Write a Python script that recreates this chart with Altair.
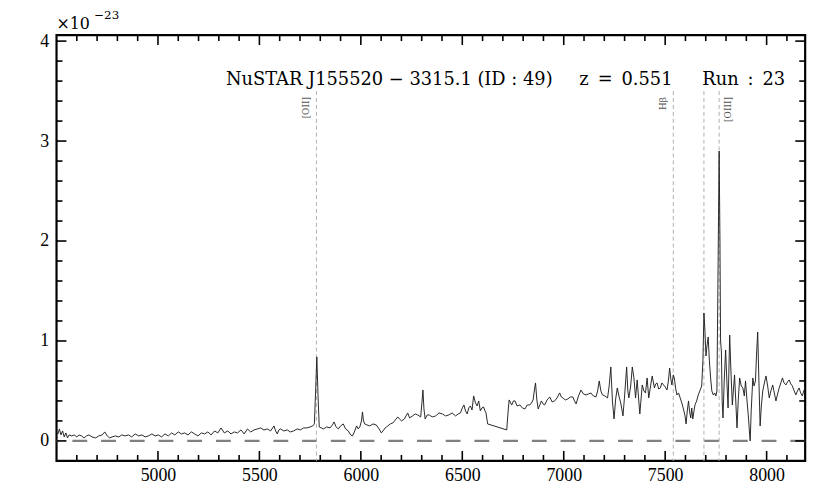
import altair as alt
import pandas as pd

# ---------------- data ----------------
# wavelength [Angstrom] and flux [x1e-23] by segment
A_wl = [4500, 4507, 4514, 4522, 4530, 4538, 4546, 4554, 4562, 4575, 4587, 4600, 4611, 4624, 4636, 4648, 4660, 4675,
        4693, 4708, 4725, 4738, 4750, 4762, 4774, 4790, 4807, 4822, 4838, 4855, 4870, 4888, 4905, 4921, 4937, 4953,
        4970, 4986, 5002, 5018, 5035, 5051, 5067, 5083, 5100, 5116, 5132, 5148, 5165, 5181, 5197, 5214, 5230, 5246,
        5262, 5279, 5295, 5311, 5327, 5344, 5360, 5376, 5392, 5409, 5425, 5441, 5457, 5474]
A_flux = [0.09, 0.07, 0.12, 0.06, 0.10, 0.04, 0.08, 0.03, 0.06, 0.05, 0.06, 0.04, 0.06, 0.05, 0.03, 0.05, 0.06, 0.04,
          0.03, 0.05, 0.06, 0.09, 0.05, 0.03, 0.04, 0.05, 0.04, 0.06, 0.05, 0.06, 0.04, 0.07, 0.05, 0.06, 0.04, 0.05,
          0.07, 0.05, 0.06, 0.04, 0.07, 0.05, 0.08, 0.06, 0.09, 0.07, 0.08, 0.06, 0.09, 0.07, 0.05, 0.08, 0.07, 0.09,
          0.06, 0.10, 0.08, 0.13, 0.08, 0.10, 0.07, 0.09, 0.08, 0.11, 0.07, 0.12, 0.09, 0.11]

B_wl = [5490, 5506, 5522, 5539, 5555, 5572, 5580, 5588, 5596, 5604, 5620, 5637, 5653, 5669, 5686, 5702, 5718, 5734,
        5750, 5763, 5771, 5778, 5783, 5789, 5795, 5805, 5816, 5832, 5848, 5860, 5868, 5878, 5889, 5900, 5913, 5925,
        5938, 5950, 5959, 5970, 5979, 5987, 5995, 6003, 6008, 6013, 6019, 6030, 6044, 6060, 6076, 6090, 6101, 6109,
        6120, 6133, 6145, 6158, 6170, 6182, 6190, 6200, 6215, 6225, 6231, 6240, 6255, 6268, 6280, 6295, 6301, 6306,
        6311, 6317, 6327, 6337, 6352, 6369, 6385, 6402, 6418, 6434, 6450, 6467]
B_flux = [0.12, 0.13, 0.11, 0.12, 0.10, 0.15, 0.10, 0.07, 0.11, 0.12, 0.10, 0.11, 0.09, 0.10, 0.12, 0.11, 0.13, 0.13,
          0.14, 0.15, 0.17, 0.55, 0.84, 0.45, 0.14, 0.13, 0.12, 0.14, 0.13, 0.16, 0.19, 0.14, 0.12, 0.15, 0.17, 0.12,
          0.10, 0.06, 0.05, 0.10, 0.15, 0.12, 0.14, 0.20, 0.29, 0.20, 0.17, 0.16, 0.15, 0.17, 0.16, 0.12, 0.08, 0.10,
          0.13, 0.15, 0.17, 0.18, 0.21, 0.24, 0.22, 0.20, 0.22, 0.26, 0.28, 0.23, 0.25, 0.27, 0.26, 0.24, 0.38, 0.51,
          0.32, 0.22, 0.26, 0.26, 0.24, 0.25, 0.28, 0.27, 0.25, 0.26, 0.28, 0.25]

C_wl = [6480, 6491, 6500, 6508, 6516, 6524, 6532, 6540, 6548, 6556, 6565, 6573, 6581, 6589, 6597, 6605, 6612, 6617,
        6625, 6719, 6726, 6731, 6738, 6744, 6752, 6760, 6770, 6784, 6796, 6809, 6820, 6833, 6841, 6849, 6856, 6861,
        6867, 6874, 6882, 6890, 6898, 6906, 6918, 6931, 6943, 6955, 6967, 6980, 6988, 6996, 7008, 7020, 7033, 7045,
        7053, 7061, 7073, 7085, 7097, 7110, 7122, 7134, 7146, 7159, 7167, 7175, 7183, 7191, 7203, 7216, 7224, 7232,
        7240, 7248, 7256, 7264, 7272, 7281, 7292, 7300, 7310, 7316, 7321, 7330, 7338]
C_flux = [0.27, 0.28, 0.33, 0.36, 0.30, 0.27, 0.33, 0.35, 0.31, 0.45, 0.38, 0.35, 0.40, 0.30, 0.33, 0.34, 0.30, 0.28,
          0.17, 0.11, 0.30, 0.41, 0.38, 0.36, 0.40, 0.40, 0.35, 0.36, 0.33, 0.32, 0.36, 0.36, 0.38, 0.41, 0.52, 0.58,
          0.42, 0.32, 0.36, 0.40, 0.37, 0.36, 0.41, 0.44, 0.39, 0.40, 0.43, 0.48, 0.44, 0.43, 0.41, 0.42, 0.44, 0.44,
          0.40, 0.37, 0.45, 0.51, 0.47, 0.46, 0.47, 0.48, 0.45, 0.44, 0.50, 0.60, 0.50, 0.46, 0.45, 0.43, 0.55, 0.74,
          0.40, 0.22, 0.42, 0.53, 0.45, 0.38, 0.25, 0.45, 0.74, 0.50, 0.43, 0.55, 0.74]

D_wl = [7346, 7354, 7362, 7375, 7387, 7395, 7403, 7411, 7419, 7428, 7436, 7447, 7453, 7460, 7468, 7476, 7484, 7492,
        7500, 7509, 7516, 7522, 7528, 7533, 7540, 7545, 7552, 7558, 7566, 7574, 7582, 7590, 7597, 7603, 7609, 7615,
        7620, 7626, 7631, 7636, 7642, 7647, 7655, 7663, 7671, 7680, 7686, 7691, 7696, 7701, 7706, 7712, 7718, 7724,
        7730, 7737, 7744, 7750, 7755, 7761, 7766, 7770, 7773, 7777, 7781, 7785, 7791, 7798, 7804, 7810, 7814, 7818,
        7824, 7831, 7836, 7842, 7848, 7854, 7860, 7867, 7875, 7883, 7890, 7896, 7903, 7910, 7915, 7919, 7924, 7932,
        7938, 7945, 7950, 7956, 7962, 7968, 7974, 7981, 7989, 7997, 8005, 8013, 8021, 8030, 8038, 8046, 8054, 8062,
        8070, 8078, 8086, 8095, 8103, 8111, 8119, 8127, 8136, 8144, 8152, 8160, 8168, 8176, 8183, 8190]
D_flux = [0.63, 0.43, 0.61, 0.27, 0.56, 0.50, 0.48, 0.63, 0.43, 0.55, 0.65, 0.53, 0.57, 0.58, 0.52, 0.53, 0.58, 0.56,
          0.54, 0.51, 0.60, 0.73, 0.62, 0.56, 0.66, 0.63, 0.52, 0.46, 0.48, 0.43, 0.38, 0.32, 0.26, 0.17, 0.30, 0.40,
          0.30, 0.23, 0.33, 0.22, 0.30, 0.36, 0.40, 0.46, 0.50, 0.55, 0.80, 1.28, 1.10, 0.85, 0.95, 1.04, 0.80, 0.63,
          0.50, 0.46, 0.48, 0.45, 0.50, 1.80, 2.90, 2.00, 1.00, 0.90, 0.40, 0.23, 0.60, 0.91, 0.60, 0.33, 0.70, 1.06,
          0.70, 0.36, 0.50, 0.66, 0.40, 0.13, 0.40, 0.63, 0.55, 0.53, 0.45, 0.60, 0.41, 0.25, 0.10, 0.00, 0.30, 0.63,
          0.55, 0.60, 0.85, 1.09, 0.60, 0.15, 0.35, 0.50, 0.58, 0.65, 0.55, 0.43, 0.50, 0.56, 0.48, 0.40, 0.47, 0.53,
          0.58, 0.63, 0.58, 0.56, 0.59, 0.61, 0.57, 0.55, 0.50, 0.46, 0.50, 0.53, 0.48, 0.45, 0.50, 0.53]

line_wl = [5781, 7540, 7691, 7766]          # redshifted emission lines (z = 0.551)
line_top = 3.5
label_text = ["[OII]", "Hβ", "[OIII]"]
label_wl = [5781, 7540, 7766]

x_major = [5000, 5500, 6000, 6500, 7000, 7500, 8000]
x_minor = [4600, 4700, 4800, 4900, 5100, 5200, 5300, 5400, 5600, 5700, 5800, 5900, 6100, 6200, 6300, 6400,
           6600, 6700, 6800, 6900, 7100, 7200, 7300, 7400, 7600, 7700, 7800, 7900, 8100]
y_major = [0, 1, 2, 3, 4]
y_minor = [0.2, 0.4, 0.6, 0.8, 1.2, 1.4, 1.6, 1.8, 2.2, 2.4, 2.6, 2.8, 3.2, 3.4, 3.6, 3.8]

title_parts = ["NuSTAR J155520 − 3315.1 (ID : 49)", "z\u2002=\u20020.551", "Run\u2002:\u200223"]

# ---------------- chart ----------------
W, H = 756, 430
spec = pd.DataFrame({"wl": A_wl + B_wl + C_wl + D_wl, "flux": A_flux + B_flux + C_flux + D_flux})
xs = alt.Scale(domain=[4500, 8190], nice=False, zero=False)
ys = alt.Scale(domain=[-0.2, 4.06], nice=False, zero=False)

xaxis = alt.Axis(values=x_major, format="d", labelFont="Liberation Serif", labelFontSize=18,
                 labelColor="black", labelPadding=6, ticks=False, domain=False, grid=False,
                 title=None, labelFlush=False)
yaxis = alt.Axis(values=y_major, format="d", labelFont="Liberation Serif", labelFontSize=18,
                 labelColor="black", labelPadding=8, ticks=False, domain=False, grid=False,
                 title=None, labelFlush=False)


def X(field):
    return alt.X(field, type="quantitative", scale=xs, axis=xaxis)


def Y(field):
    return alt.Y(field, type="quantitative", scale=ys, axis=yaxis)


zero = alt.Chart(pd.DataFrame({"y": [0]})).mark_rule(
    color="#808080", strokeWidth=2.2, strokeDash=[15, 14]
).encode(y=Y("y"))

vlines = alt.Chart(pd.DataFrame({"wl": line_wl, "top": [line_top] * len(line_wl)})).mark_rule(
    color="#b0b0b0", strokeWidth=1, strokeDash=[4, 3]
).encode(x=X("wl"), y=Y("top"), y2=alt.value(H))

spectrum = alt.Chart(spec).mark_line(color="#1e1e1e", strokeWidth=0.95).encode(
    x=X("wl"), y=Y("flux"))


def hticks(vals, y0, y1):
    return alt.Chart(pd.DataFrame({"t": vals})).mark_rule(color="black", strokeWidth=1.6).encode(
        x=X("t"), y=alt.value(y0), y2=alt.value(y1))


def vticks(vals, x0, x1):
    return alt.Chart(pd.DataFrame({"t": vals})).mark_rule(color="black", strokeWidth=1.6).encode(
        y=Y("t"), x=alt.value(x0), x2=alt.value(x1))


ticks = [
    hticks(x_major, H, H - 10), hticks(x_minor, H, H - 6),
    hticks(x_major, 0, 10), hticks(x_minor, 0, 6),
    vticks(y_major, 0, 10), vticks(y_minor, 0, 6),
    vticks(y_major, W, W - 10), vticks(y_minor, W, W - 6),
]

lab = pd.DataFrame({"wl": label_wl, "label": label_text, "ypos": [3.44] * len(label_wl)})


def line_label(df, dy):
    return alt.Chart(df).mark_text(
        angle=270, align="right", baseline="middle", dy=dy,
        font="DejaVu Serif", fontSize=9, color="#555555"
    ).encode(x=X("wl"), y=Y("ypos"), text="label:N")


labels = [line_label(lab.iloc[:2], -10), line_label(lab.iloc[2:], 9)]


def txt(s, x, y, size, align="center"):
    return alt.Chart(pd.DataFrame({"s": [s]})).mark_text(
        font="DejaVu Serif", fontSize=size, align=align, baseline="alphabetic", color="black"
    ).encode(x=alt.value(x), y=alt.value(y), text="s:N")


texts = [
    txt(title_parts[0], 336, 50, 18),
    txt(title_parts[1], 575, 50, 18),
    txt(title_parts[2], 694, 50, 18),
    txt("×10", 0, -6, 16, "left"),
    txt("−23", 38, -16, 12, "left"),
]

chart = alt.layer(zero, vlines, spectrum, *ticks, *labels, *texts).properties(
    width=W, height=H,
    background="white",
    padding={"left": 49, "top": 25, "right": 17, "bottom": 27},
    autosize=alt.AutoSizeParams(type="none"),
).configure_view(stroke="black", strokeWidth=2.2)

chart.save("out.html", embed_options={"renderer": "svg", "actions": False})
